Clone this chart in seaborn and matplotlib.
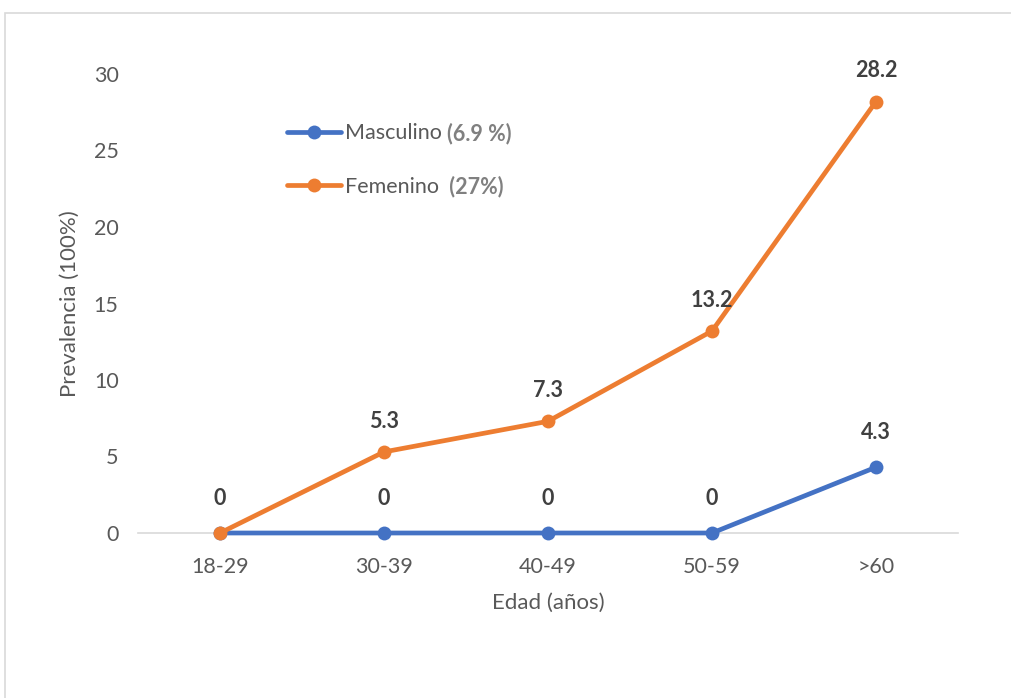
import matplotlib
matplotlib.use('Agg')
import matplotlib.pyplot as plt
from matplotlib.patches import Rectangle
import seaborn as sns
import pandas as pd

# data
edades = ['18-29', '30-39', '40-49', '50-59', '>60']
masculino = [0, 0, 0, 0, 4.3]
femenino = [0, 5.3, 7.3, 13.2, 28.2]
series_names = ['Masculino', 'Femenino']
series_extra = ['(6.9 %)', ' (27%)']
colores = ['#4472C4', '#ED7D31']

df = pd.DataFrame({
    'Edad': edades * 2,
    'Prevalencia': masculino + femenino,
    'Sexo': [series_names[0]] * len(edades) + [series_names[1]] * len(edades),
})

sns.set_theme(style='white')
plt.rcParams['font.family'] = ['Lato', 'DejaVu Sans']

gray_txt = '#595959'
fs = 15.5

fig = plt.figure(figsize=(10.12, 6.98), dpi=100)
ax = fig.add_axes([138 / 1012, 1 - 533 / 698, 820 / 1012, 459 / 698])

sns.lineplot(data=df, x='Edad', y='Prevalencia', hue='Sexo', palette=colores,
             marker='o', markersize=10, markeredgewidth=0, linewidth=3.4,
             sort=False, ax=ax)
for ln in ax.lines:
    ln.set_clip_on(False)

ax.set_xlim(-0.5, len(edades) - 0.5)
ax.set_ylim(0, 30)
ax.set_yticks([0, 5, 10, 15, 20, 25, 30])

for s in ['top', 'right', 'left']:
    ax.spines[s].set_visible(False)
ax.spines['bottom'].set_color('#d9d9d9')
ax.spines['bottom'].set_linewidth(1.2)
ax.spines['bottom'].set_zorder(0)
ax.tick_params(axis='both', length=0, labelsize=fs, labelcolor=gray_txt)
ax.tick_params(axis='x', pad=17)
ax.tick_params(axis='y', pad=14)

ax.set_xlabel('Edad (años)', fontsize=fs + 0.5, color=gray_txt, labelpad=12)
ax.set_ylabel('Prevalencia (100%)', fontsize=fs + 0.5, color=gray_txt, labelpad=10)

# data labels
for i, v in enumerate(masculino):
    ax.annotate(f'{v:g}', (i, v), xytext=(0, 25), textcoords='offset points',
                ha='center', va='center', fontsize=fs, fontweight='bold', color='#404040')
for i, v in enumerate(femenino):
    if i == 0:
        continue
    ax.annotate(f'{v:g}', (i, v), xytext=(0, 22), textcoords='offset points',
                ha='center', va='center', fontsize=fs, fontweight='bold', color='#404040')

leg = ax.legend(loc='upper left', bbox_to_anchor=(0.158, 0.935), frameon=False,
                fontsize=fs, handlelength=2.5, labelspacing=1.55, handletextpad=0.2,
                labelcolor=gray_txt)

# lighter percentage part of the legend labels
fig.canvas.draw()
renderer = fig.canvas.get_renderer()
for t, extra in zip(leg.get_texts(), series_extra):
    bb = t.get_window_extent(renderer)
    fig.text((bb.x1 + 5) / 1012, (bb.y0 + bb.y1) / 2 / 698, extra, fontsize=fs,
             color='#808080', fontweight='bold', va='center', ha='left')

# light frame around the chart area
fig.patches.append(Rectangle((5 / 1012, -0.1), 1.2, (698 - 13) / 698 + 0.1,
                             transform=fig.transFigure, fill=False,
                             edgecolor='#d9d9d9', linewidth=1.2))

fig.savefig('out.png', dpi=100)
